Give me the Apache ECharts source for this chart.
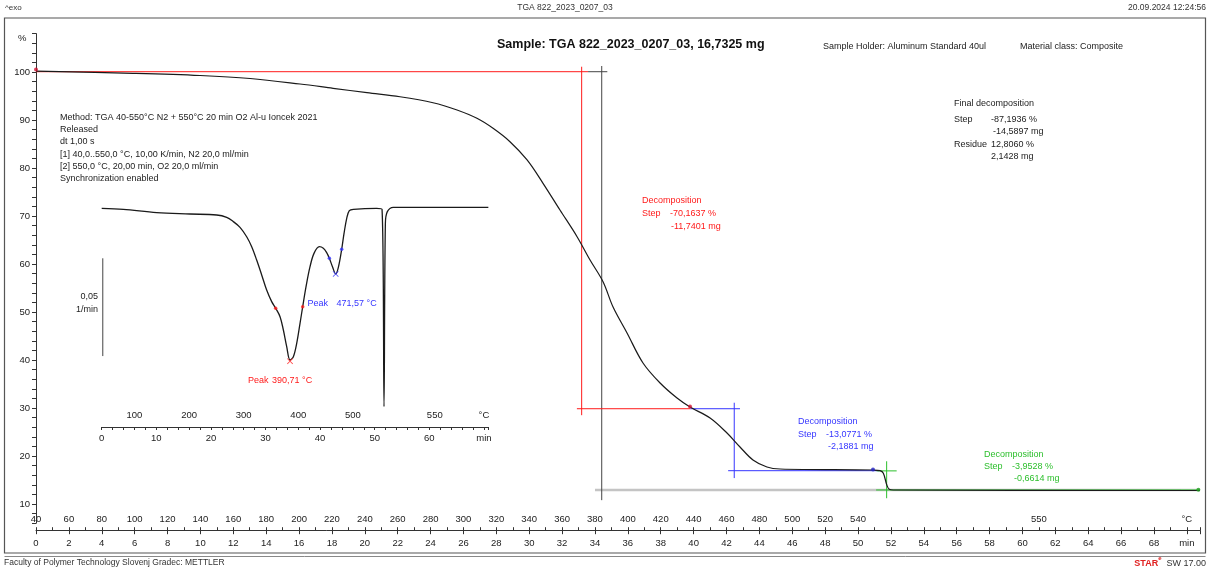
<!DOCTYPE html>
<html><head><meta charset="utf-8">
<script src="https://cdn.jsdelivr.net/npm/echarts@6/dist/echarts.min.js"></script>
<style>html,body{margin:0;padding:0;background:#fff}#c{width:1211px;height:573px}</style>
</head><body><div id="c"></div>
<script>
// ---------- data ----------
// TGA curve: time [min] vs mass [%]
const tgaTime = [0, 5.90, 9.98, 13.02, 16.06, 18.07, 20.13, 22.14, 24.15, 25.61, 26.82, 27.80, 28.83, 29.87, 30.84, 31.87, 32.91, 33.70, 34.49, 35.10, 35.95, 36.92, 37.96, 38.99, 39.78, 41.00, 42.03, 42.82, 43.61, 44.46, 45.26, 50.91, 51.34, 51.54, 51.75, 51.90, 52.15, 70.80];
const tgaMass = [100.2, 99.73, 99.27, 98.65, 97.5, 96.6, 95.69, 94.85, 93.6, 92.08, 90.35, 88.27, 85.48, 81.67, 76.81, 71.25, 65.69, 60.83, 56.31, 51.04, 45.63, 39.38, 35.21, 32.08, 30.21, 27.92, 24.79, 21.88, 19.17, 17.71, 17.29, 17.08, 16.94, 16.4, 13.96, 13.06, 12.92, 12.81];
// DTG inset: time [min] vs rate [1/min]
const dtgTime = [0, 3.96, 10.07, 16.17, 21.06, 22.89, 24.11, 25.33, 26.55, 27.47, 28.38, 29.30, 30.21, 31.13, 31.86, 32.66, 33.27, 33.88, 34.49, 35.10, 35.71, 36.32, 36.81, 37.42, 38.15, 38.88, 39.86, 40.59, 41.20, 41.69, 42.30, 42.85, 43.34, 43.95, 44.38, 44.87, 45.35, 46.09, 50.36, 51.34, 51.70, 51.95, 52.31, 53.41, 70.81];
const dtgRate = [-0.0005, -0.0010, -0.0027, -0.0034, -0.0039, -0.0051, -0.0073, -0.0102, -0.0150, -0.0201, -0.0269, -0.0345, -0.0422, -0.0481, -0.0515, -0.0558, -0.0626, -0.0711, -0.0779, -0.0762, -0.0694, -0.0592, -0.0507, -0.0405, -0.0303, -0.0235, -0.0201, -0.0209, -0.0231, -0.0260, -0.0306, -0.0340, -0.0306, -0.0214, -0.0133, -0.0056, -0.0017, -0.0010, -0.0005, -0.0010, -0.1017, -0.0082, -0.0022, 0.0000, 0.0000];

// step-evaluation construction lines (time, %)
const redStepLines   = [[[0, 100.06], [33.58, 100.06]], [[33.19, 101.1], [33.19, 28.5]], [[32.9, 29.85], [39.8, 29.85]]];
const blueStepLines  = [[[39.8, 29.85], [42.82, 29.85]], [[42.47, 31.1], [42.47, 15.4]], [[42.1, 16.94], [51.3, 16.94]]];
const greenStepLines = [[[51.13, 16.9], [52.35, 16.9]], [[51.74, 18.9], [51.74, 11.2]], [[51.1, 12.92], [70.8, 12.92]]];
const finalStepLines = [[[33.58, 100.06], [34.75, 100.06]], [[34.41, 101.25], [34.41, 10.8]]];
const finalResidueLine = [[34.0, 12.9], [70.8, 12.9]];
const redMarks   = [[0, 100.5], [39.78, 30.3]];
const blueMarks  = [[50.91, 17.2]];
const greenMarks = [[70.7, 12.95]];
// DTG evaluation marks
const dtgRedLimits  = [[31.86, -0.0515], [36.81, -0.0507]];
const dtgRedPeak    = [[34.49, -0.0785]];
const dtgBlueLimits = [[41.69, -0.0260], [43.95, -0.0214]];
const dtgBluePeak   = [[42.85, -0.0340]];
const scaleBar      = [[0.2, -0.0260], [0.2, -0.0759]];

// tick labels
const mainTempAt   = [0,2,4,6,8,10,12,14,16,18,20,22,24,26,28,30,32,34,36,38,40,42,44,46,48,50,61,70];
const mainTempText = ['40','60','80','100','120','140','160','180','200','220','240','260','280','300','320','340','360','380','400','420','440','460','480','500','520','540','550','°C'];
const mainMinAt    = [0,2,4,6,8,10,12,14,16,18,20,22,24,26,28,30,32,34,36,38,40,42,44,46,48,50,52,54,56,58,60,62,64,66,68,70];
const mainMinText  = ['0','2','4','6','8','10','12','14','16','18','20','22','24','26','28','30','32','34','36','38','40','42','44','46','48','50','52','54','56','58','60','62','64','66','68','min'];
const insetTempAt   = [6,16,26,36,46,61,70];
const insetTempText = ['100','200','300','400','500','550','°C'];
const insetMinAt    = [0,10,20,30,40,50,60,70];
const insetMinText  = ['0','10','20','30','40','50','60','min'];
const yLabelValues  = [10,20,30,40,50,60,70,80,90,100];

// texts
const headerLeft = '^exo', headerMid = 'TGA 822_2023_0207_03', headerRight = '20.09.2024 12:24:56';
const sampleTitle = 'Sample: TGA 822_2023_0207_03, 16,7325 mg';
const sampleHolder = 'Sample Holder: Aluminum Standard 40ul';
const materialClass = 'Material class: Composite';
const methodLines = ['Method: TGA 40-550°C N2 + 550°C 20 min O2 Al-u Ioncek 2021','Released','dt 1,00 s','[1] 40,0..550,0 °C, 10,00 K/min, N2 20,0 ml/min','[2] 550,0 °C, 20,00 min, O2 20,0 ml/min','Synchronization enabled'];
const footerLeft = 'Faculty of Polymer Technology Slovenj Gradec: METTLER';

// ---------- chart ----------
const FONT = 'Liberation Sans';
const RED = '#ff1a1a', BLUE = '#3535ff', GREEN = '#2cbf2c', INK = '#1a1a1a';
const zip = (a, b) => a.map((x, i) => [x, b[i]]);
const lookup = (at, text) => v => { const i = at.indexOf(Math.round(v * 1000) / 1000); return i >= 0 ? text[i] : ''; };

function segSeries(segs, color, width, z) {
  return segs.map(s => ({
    type: 'line', xAxisIndex: 0, yAxisIndex: 0, data: s, showSymbol: false, silent: true,
    lineStyle: { color: color, width: width }, z: z, animation: false
  }));
}
function txt(x, y, text, color, size, opts) {
  opts = opts || {};
  return {
    type: 'text', x: x, y: y, silent: true, z: 50,
    style: Object.assign({
      text: text, fill: color, font: (opts.bold ? 'bold ' : '') + size + 'px "' + FONT + '"',
      textAlign: opts.align || 'left', align: opts.align || 'left',
      textVerticalAlign: 'middle', verticalAlign: 'middle', lineHeight: opts.lh || size * 1.3
    }, opts.style || {})
  };
}

const chart = echarts.init(document.getElementById('c'));
const axisColor = '#333';
const option = {
  animation: false,
  textStyle: { fontFamily: FONT },
  title: [{
    right: 5, top: 555, padding: 0,
    text: '{r|STAR}{s|e} {k|SW 17.00}',
    textStyle: { rich: {
      r: { color: '#e02020', fontSize: 9, fontFamily: FONT, fontWeight: 'bold' },
      s: { color: '#e02020', fontSize: 6, fontFamily: FONT, verticalAlign: 'top', padding: [0, 0, 4, 0] },
      k: { color: '#333', fontSize: 9, fontFamily: FONT, fontWeight: 'normal' }
    } }
  }],
  grid: [
    { left: 36, right: 11, top: 33.6, bottom: 49.8, show: false },
    { left: 101.7, right: 722.7, top: 199.5, bottom: 146, show: false }
  ],
  xAxis: [
    { gridIndex: 0, type: 'value', min: 0, max: 70.8, interval: 2, position: 'bottom', offset: 7,
      axisLine: { show: true, onZero: false, lineStyle: { color: axisColor, width: 1 } },
      axisTick: { show: true, length: 4, lineStyle: { color: axisColor } },
      axisLabel: { margin: 8, fontSize: 9.5, color: '#222', formatter: lookup(mainMinAt, mainMinText) },
      splitLine: { show: false } },
    { gridIndex: 0, type: 'value', min: 0, max: 70.8, interval: 1, position: 'bottom', offset: 7,
      axisLine: { show: false, onZero: false },
      axisTick: { show: true, inside: true, length: 3, lineStyle: { color: axisColor } },
      axisLabel: { inside: true, margin: 6, fontSize: 9.5, color: '#222', formatter: lookup(mainTempAt, mainTempText) },
      splitLine: { show: false } },
    { gridIndex: 1, type: 'value', min: 0, max: 70.8, interval: 2, position: 'bottom', offset: 0,
      axisLine: { show: true, onZero: false, lineStyle: { color: axisColor, width: 1 } },
      axisTick: { show: true, length: 3, lineStyle: { color: axisColor } },
      axisLabel: { margin: 6, fontSize: 9.5, color: '#222', formatter: lookup(insetMinAt, insetMinText) },
      splitLine: { show: false } },
    { gridIndex: 1, type: 'value', min: 0, max: 70.8, interval: 1, position: 'bottom', offset: 0,
      axisLine: { show: false, onZero: false }, axisTick: { show: false },
      axisLabel: { inside: true, margin: 7, fontSize: 9.5, color: '#222', formatter: lookup(insetTempAt, insetTempText) },
      splitLine: { show: false } }
  ],
  yAxis: [
    { gridIndex: 0, type: 'value', min: 6, max: 108, interval: 2,
      axisLine: { show: true, onZero: false, lineStyle: { color: axisColor, width: 1 } },
      axisTick: { show: true, length: 4, lineStyle: { color: axisColor } },
      axisLabel: { margin: 6, fontSize: 9.5, color: '#222', formatter: v => yLabelValues.indexOf(v) >= 0 ? String(v) : '' },
      splitLine: { show: false } },
    { gridIndex: 1, type: 'value', min: -0.1121, max: 0.004, show: false, splitLine: { show: false } }
  ],
  series: [].concat(
    [{ type: 'line', xAxisIndex: 0, yAxisIndex: 0, data: finalResidueLine, showSymbol: false, silent: true,
       lineStyle: { color: '#c4c4c4', width: 2.5 }, z: 1 }],
    segSeries(finalStepLines, '#444', 1, 2),
    segSeries(redStepLines, RED, 1, 2),
    segSeries(blueStepLines, BLUE, 1, 2),
    segSeries(greenStepLines, GREEN, 1, 2),
    [
      { type: 'line', name: 'TGA', xAxisIndex: 0, yAxisIndex: 0, data: zip(tgaTime, tgaMass),
        smooth: 0.35, showSymbol: false, silent: true,
        lineStyle: { color: INK, width: 1.2 }, z: 5 },
      { type: 'scatter', xAxisIndex: 0, yAxisIndex: 0, data: redMarks, symbol: 'circle', symbolSize: 4, itemStyle: { color: '#d01030' }, z: 6, silent: true },
      { type: 'scatter', xAxisIndex: 0, yAxisIndex: 0, data: blueMarks, symbol: 'circle', symbolSize: 4, itemStyle: { color: '#2020c0' }, z: 6, silent: true },
      { type: 'scatter', xAxisIndex: 0, yAxisIndex: 0, data: greenMarks, symbol: 'circle', symbolSize: 4, itemStyle: { color: '#20a020' }, z: 6, silent: true },
      { type: 'line', name: 'DTG', xAxisIndex: 2, yAxisIndex: 1, data: zip(dtgTime, dtgRate),
        smooth: 0.35, showSymbol: false, silent: true,
        lineStyle: { color: INK, width: 1.3 }, z: 5 },
      { type: 'line', xAxisIndex: 2, yAxisIndex: 1, data: scaleBar, showSymbol: false, silent: true,
        lineStyle: { color: '#444', width: 1 }, z: 5 },
      { type: 'scatter', xAxisIndex: 2, yAxisIndex: 1, data: dtgRedLimits, symbol: 'circle', symbolSize: 3.5, itemStyle: { color: RED }, z: 6, silent: true },
      { type: 'scatter', xAxisIndex: 2, yAxisIndex: 1, data: dtgBlueLimits, symbol: 'circle', symbolSize: 3.5, itemStyle: { color: BLUE }, z: 6, silent: true },
      { type: 'scatter', xAxisIndex: 2, yAxisIndex: 1, data: dtgRedPeak, symbol: 'path://M0,1L1,0L5,4L9,0L10,1L6,5L10,9L9,10L5,6L1,10L0,9L4,5Z', symbolSize: 6, itemStyle: { color: RED }, z: 6, silent: true },
      { type: 'scatter', xAxisIndex: 2, yAxisIndex: 1, data: dtgBluePeak, symbol: 'path://M0,1L1,0L5,4L9,0L10,1L6,5L10,9L9,10L5,6L1,10L0,9L4,5Z', symbolSize: 6, itemStyle: { color: BLUE }, z: 6, silent: true }
    ]
  ),
  graphic: [
    // frame
    { type: 'rect', shape: { x: 4.5, y: 18, width: 1201, height: 535 }, style: { fill: 'none', stroke: '#555', lineWidth: 1.2 }, silent: true, z: 0 },
    { type: 'line', shape: { x1: 4.5, y1: 556.5, x2: 1205.5, y2: 556.5 }, style: { stroke: '#888', lineWidth: 1 }, silent: true, z: 0 },
    // header
    txt(5, 8, headerLeft, '#333', 8),
    txt(565, 8, headerMid, '#333', 8.5, { align: 'center' }),
    txt(1206, 8, headerRight, '#333', 8.5, { align: 'right' }),
    // titles
    txt(497, 45, sampleTitle, '#111', 12.5, { bold: true }),
    txt(823, 47, sampleHolder, '#222', 9),
    txt(1020, 47, materialClass, '#222', 9),
    txt(18, 38, '%', '#222', 9.5),
    // method block
    txt(60, 148, methodLines.join('\n'), '#222', 9, { lh: 12.1 }),
    // final decomposition
    txt(954, 104, 'Final decomposition', '#222', 9),
    txt(954, 120, 'Step', '#222', 9),
    txt(991, 120, '-87,1936 %', '#222', 9),
    txt(993, 132, '-14,5897 mg', '#222', 9),
    txt(954, 145, 'Residue', '#222', 9),
    txt(991, 145, '12,8060 %', '#222', 9),
    txt(991, 157, '2,1428 mg', '#222', 9),
    // red step
    txt(642, 201, 'Decomposition', RED, 9),
    txt(642, 214, 'Step', RED, 9),
    txt(670, 214, '-70,1637 %', RED, 9),
    txt(671, 226.5, '-11,7401 mg', RED, 9),
    // blue step
    txt(798, 422, 'Decomposition', BLUE, 9),
    txt(798, 434.5, 'Step', BLUE, 9),
    txt(826, 434.5, '-13,0771 %', BLUE, 9),
    txt(828, 446.5, '-2,1881 mg', BLUE, 9),
    // green step
    txt(984, 454.5, 'Decomposition', GREEN, 9),
    txt(984, 467, 'Step', GREEN, 9),
    txt(1012, 467, '-3,9528 %', GREEN, 9),
    txt(1014, 479, '-0,6614 mg', GREEN, 9),
    // inset
    txt(248, 380.5, 'Peak', RED, 9),
    txt(272, 380.5, '390,71 °C', RED, 9),
    txt(307.5, 304, 'Peak', BLUE, 9),
    txt(336.5, 304, '471,57 °C', BLUE, 9),
    txt(98, 297, '0,05', '#222', 9, { align: 'right' }),
    txt(98, 310, '1/min', '#222', 9, { align: 'right' }),
    // footer
    txt(4, 563, footerLeft, '#333', 8.5)
  ]
};
chart.setOption(option);
</script>
</body></html>
